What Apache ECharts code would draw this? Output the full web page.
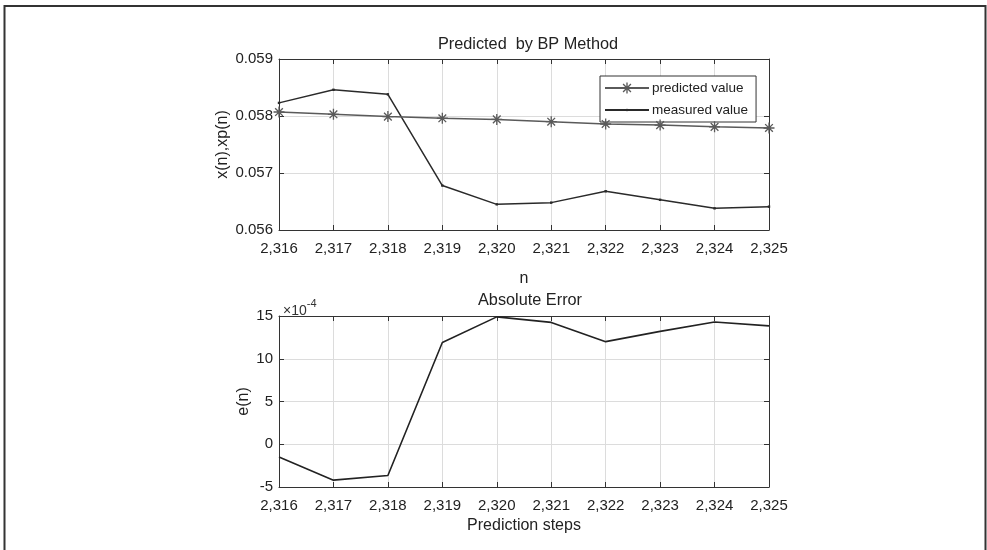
<!DOCTYPE html>
<html>
<head>
<meta charset="utf-8">
<script src="https://cdn.jsdelivr.net/npm/echarts@6/dist/echarts.min.js"></script>
<style>
  html, body { margin: 0; padding: 0; background: #fff; }
  #chart { width: 987px; height: 550px; }
</style>
</head>
<body>
<div id="chart"></div>
<script>
// values
const steps = ['2,316', '2,317', '2,318', '2,319', '2,320', '2,321', '2,322', '2,323', '2,324', '2,325']
const predicted = [0.05807, 0.05803, 0.05799, 0.05796, 0.05794, 0.05790, 0.05786, 0.05784, 0.05781, 0.05779]
const measured = [0.05823, 0.05846, 0.05838, 0.05678, 0.05645, 0.05648, 0.05668, 0.05653, 0.05638, 0.05641]
// absolute error, in units of 1e-4
const absError = [-1.5, -4.2, -3.65, 11.9, 14.9, 14.25, 12.0, 13.2, 14.3, 13.85]

const FONT = 'Liberation Sans'
// matlab style '*' marker
const star = 'path://M-10,-1.2L10,-1.2L10,1.2L-10,1.2Z M-1.2,-10L1.2,-10L1.2,10L-1.2,10Z ' +
  'M-6.15,-7.85L7.85,6.15L6.15,7.85L-7.85,-6.15Z M-7.85,6.15L6.15,-7.85L7.85,-6.15L-6.15,7.85Z'
// small '.' marker, the empty moves keep the box big so the dot stays small
const dot = 'path://M-2,-2L2,-2L2,2L-2,2Z M-10,-10L-10,-10 M10,10L10,10'

const axisLine = { show: true, onZero: false, lineStyle: { color: '#333', width: 1 } }
const tick = { show: true, inside: true, length: 5, lineStyle: { color: '#333' } }
const grid = { show: true, lineStyle: { color: '#dcdcdc', width: 1 } }

function xAxes (gridIndex, name, nameGap) {
  return [
    {
      gridIndex: gridIndex,
      type: 'category',
      data: steps,
      boundaryGap: false,
      name: name,
      nameLocation: 'middle',
      nameGap: nameGap,
      nameTextStyle: { color: '#222', fontSize: 16, fontFamily: FONT },
      axisLine: axisLine,
      axisTick: tick,
      splitLine: grid,
      axisLabel: { color: '#222', fontSize: 15, margin: 11, interval: 0, fontFamily: FONT }
    },
    {
      gridIndex: gridIndex,
      type: 'category',
      data: steps,
      boundaryGap: false,
      position: 'top',
      axisLine: axisLine,
      axisTick: tick,
      axisLabel: { show: false },
      splitLine: { show: false }
    }
  ]
}

function yAxes (gridIndex, min, max, interval, name, nameGap) {
  return [
    {
      gridIndex: gridIndex,
      type: 'value',
      min: min,
      max: max,
      interval: interval,
      name: name,
      nameLocation: 'middle',
      nameGap: nameGap,
      nameTextStyle: { color: '#222', fontSize: 16, fontFamily: FONT },
      axisLine: axisLine,
      axisTick: tick,
      splitLine: grid,
      axisLabel: {
        color: '#222', fontSize: 15, margin: 6, fontFamily: FONT,
        formatter: v => (interval < 0.01 ? v.toFixed(3) : String(Math.round(v)))
      }
    },
    {
      gridIndex: gridIndex,
      type: 'value',
      min: min,
      max: max,
      interval: interval,
      position: 'right',
      axisLine: axisLine,
      axisTick: tick,
      axisLabel: { show: false },
      splitLine: { show: false }
    }
  ]
}

const option = {
  animation: false,
  backgroundColor: '#fff',
  textStyle: { fontFamily: FONT },
  title: [
    {
      text: 'Predicted  by BP Method',
      left: 523, top: 32, textAlign: 'center',
      textStyle: { color: '#222', fontSize: 16.3, fontWeight: 'normal', fontFamily: FONT }
    },
    {
      text: 'Absolute Error',
      left: 525, top: 288, textAlign: 'center',
      textStyle: { color: '#222', fontSize: 16.3, fontWeight: 'normal', fontFamily: FONT }
    },
    {
      text: '{a|×10}{b|-4}',
      left: 278, top: 291,
      textStyle: {
        rich: {
          a: { color: '#333', fontSize: 14, fontWeight: 'normal', fontFamily: FONT, padding: [8, 0, 0, 0] },
          b: { color: '#333', fontSize: 11, fontWeight: 'normal', fontFamily: FONT, padding: [0, 0, 6, 0] }
        }
      }
    }
  ],
  legend: {
    orient: 'vertical',
    left: 600,
    top: 76,
    width: 152,
    padding: [5, 8, 5, 4],
    itemGap: 8,
    itemWidth: 44,
    itemHeight: 14,
    backgroundColor: '#fff',
    borderColor: '#333',
    borderWidth: 1,
    borderRadius: 0,
    textStyle: { color: '#222', fontSize: 13.5, fontFamily: FONT, padding: [0, 0, 0, -2] },
    data: ['predicted value', 'measured value']
  },
  grid: [
    { left: 279, right: 218, top: 59, height: 171 },
    { left: 279, right: 218, top: 316, height: 171 }
  ],
  xAxis: xAxes(0, 'n', 41).concat(xAxes(1, 'Prediction steps', 31)),
  yAxis: yAxes(0, 0.056, 0.059, 0.001, 'x(n),xp(n)', 48).concat(yAxes(1, -5, 15, 5, 'e(n)', 27)),
  graphic: [
    {
      type: 'rect',
      silent: true,
      shape: { x: 4.5, y: 6, width: 981, height: 560 },
      style: { fill: 'none', stroke: '#333', lineWidth: 2 }
    }
  ],
  series: [
    {
      name: 'measured value',
      type: 'line',
      xAxisIndex: 0,
      yAxisIndex: 0,
      data: measured,
      symbol: dot,
      symbolSize: 12,
      lineStyle: { color: '#2a2a2a', width: 1.5 },
      itemStyle: { color: '#2a2a2a' },
      z: 3
    },
    {
      name: 'predicted value',
      type: 'line',
      xAxisIndex: 0,
      yAxisIndex: 0,
      data: predicted,
      symbol: star,
      symbolSize: 11,
      lineStyle: { color: '#5a5a5a', width: 1.5 },
      itemStyle: { color: '#5a5a5a' },
      z: 4
    },
    {
      name: 'absolute error',
      type: 'line',
      xAxisIndex: 2,
      yAxisIndex: 2,
      data: absError,
      symbol: 'none',
      lineStyle: { color: '#222', width: 1.6 }
    }
  ]
}

const myChart = echarts.init(document.getElementById('chart'))
myChart.setOption(option)
</script>
</body>
</html>
